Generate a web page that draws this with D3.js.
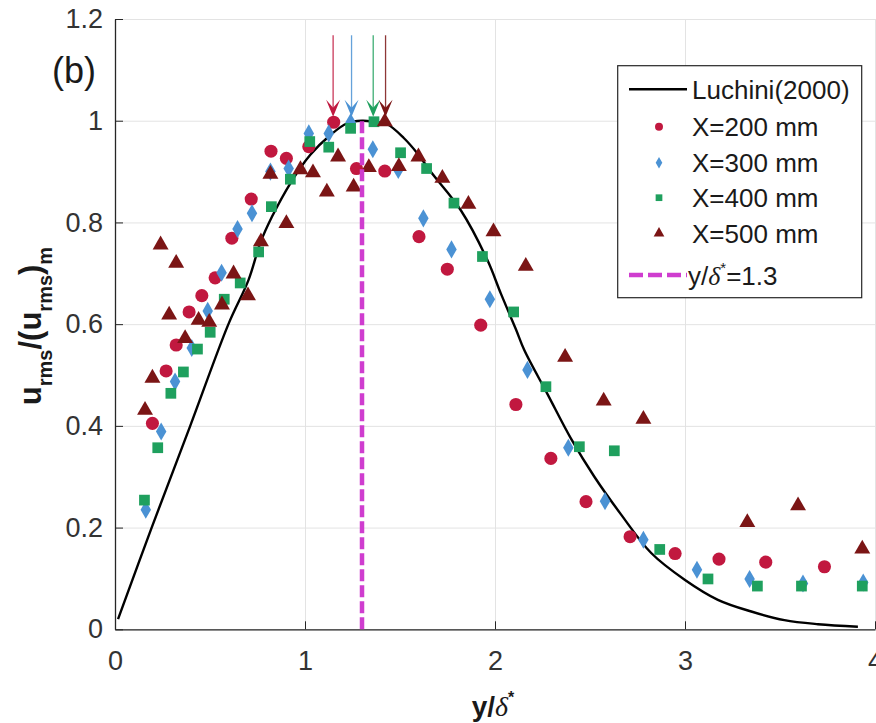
<!DOCTYPE html>
<html>
<head>
<meta charset="utf-8">
<script src="https://cdn.jsdelivr.net/npm/d3@7"></script>
<style>
  body { margin: 0; background: #fff; }
  svg { display: block; font-family: "Liberation Sans", Arial, sans-serif; }
</style>
</head>
<body>
<div class="content"></div>
<script>
// Luchini (2000) theory curve
var luchiniX = [0.016,0.193,0.396,0.597,0.703,0.765,0.826,0.923,1.028,1.134,1.222,1.3,1.363,1.433,1.52,1.591,1.661,1.82,1.96,2.031,2.11,2.154,2.277,2.4,2.523,2.663,2.822,3.0,3.173,3.349,3.523,3.7,3.91];
var luchiniY = [0.02,0.2,0.4,0.6,0.687,0.76,0.811,0.877,0.933,0.972,0.995,1.0,0.998,0.993,0.966,0.936,0.9,0.824,0.726,0.66,0.59,0.549,0.462,0.375,0.3,0.226,0.15,0.097,0.058,0.035,0.018,0.01,0.005];

// X=200 mm
var x200 = [0.197,0.269,0.322,0.39,0.457,0.527,0.615,0.717,0.821,0.902,1.02,1.151,1.271,1.42,1.6,1.749,1.925,2.11,2.294,2.479,2.711,2.948,3.179,3.425,3.734];
var y200 = [0.405,0.508,0.559,0.624,0.656,0.691,0.769,0.846,0.94,0.926,0.949,0.997,0.906,0.901,0.772,0.708,0.598,0.442,0.336,0.251,0.182,0.149,0.138,0.132,0.123];

// X=300 mm
var x300 = [0.162,0.243,0.316,0.404,0.488,0.561,0.645,0.721,0.818,0.914,1.02,1.125,1.24,1.357,1.491,1.623,1.771,1.973,2.171,2.386,2.579,2.781,3.063,3.34,3.621,3.938];
var y300 = [0.235,0.389,0.487,0.553,0.626,0.701,0.787,0.818,0.9,0.906,0.975,0.975,0.997,0.944,0.903,0.808,0.747,0.649,0.51,0.357,0.252,0.176,0.117,0.099,0.09,0.092];

// X=400 mm
var x400 = [0.155,0.225,0.294,0.36,0.434,0.501,0.575,0.659,0.756,0.823,0.923,1.025,1.125,1.24,1.363,1.503,1.64,1.784,1.934,2.098,2.268,2.444,2.628,2.867,3.121,3.381,3.613,3.933];
var y400 = [0.254,0.357,0.464,0.506,0.551,0.584,0.649,0.681,0.742,0.831,0.885,0.959,0.948,0.985,0.998,0.937,0.906,0.838,0.733,0.624,0.477,0.359,0.351,0.157,0.099,0.085,0.085,0.085];

// X=500 mm
var x500 = [0.158,0.197,0.24,0.285,0.322,0.369,0.44,0.496,0.563,0.624,0.7,0.768,0.818,0.902,0.976,1.042,1.115,1.174,1.256,1.336,1.42,1.494,1.597,1.723,1.86,1.992,2.162,2.369,2.572,2.781,3.328,3.595,3.933];
var y500 = [0.431,0.494,0.756,0.618,0.72,0.572,0.608,0.604,0.638,0.699,0.656,0.762,0.895,0.798,0.904,0.898,0.86,0.929,0.87,0.908,0.998,0.91,0.929,0.887,0.836,0.782,0.714,0.535,0.449,0.413,0.21,0.243,0.158];

var seriesNames = ["X=200 mm", "X=300 mm", "X=400 mm", "X=500 mm"];
var seriesColors = ["#c1183f", "#4b92d4", "#1fa05e", "#7b1515"];
var peakX = [1.148, 1.245, 1.359, 1.424];
var refLineX = 1.3;

var xTicks = [0, 1, 2, 3, 4];
var yTicks = [0, 0.2, 0.4, 0.6, 0.8, 1, 1.2];

var width = 876, height = 723;
var svg = d3.select('.content').append('svg').attr('width', width).attr('height', height);

var x = d3.scaleLinear().domain([0, 4]).range([115, 875]);
var y = d3.scaleLinear().domain([0, 1.2]).range([629.3, 19]);

// grid
svg.append('g').attr('transform', 'translate(0,629.3)')
  .call(d3.axisBottom(x).tickValues(xTicks).tickSize(-610.3).tickFormat(''))
  .call(function(g) { g.select('.domain').remove(); g.selectAll('line').attr('stroke', '#e3e3e3'); });
svg.append('g').attr('transform', 'translate(115,0)')
  .call(d3.axisLeft(y).tickValues(yTicks).tickSize(-760).tickFormat(''))
  .call(function(g) { g.select('.domain').remove(); g.selectAll('line').attr('stroke', '#e3e3e3'); });

// axes
var xAxis = svg.append('g').attr('transform', 'translate(0,629.3)')
  .call(d3.axisBottom(x).tickValues(xTicks).tickSizeInner(-8).tickSizeOuter(0).tickPadding(22).tickFormat(d3.format('')));
var yAxis = svg.append('g').attr('transform', 'translate(115,0)')
  .call(d3.axisLeft(y).tickValues(yTicks).tickSizeInner(-8).tickSizeOuter(0).tickPadding(12).tickFormat(d3.format('')));
[xAxis, yAxis].forEach(function(g) {
  g.select('.domain').attr('stroke', '#262626').attr('stroke-width', 1.3);
  g.selectAll('line').attr('stroke', '#262626');
  g.selectAll('text').attr('font-size', 27).attr('fill', '#333').attr('font-family', '"Liberation Sans", Arial, sans-serif');
});

// theory curve
var line = d3.line().x(function(d) { return x(d[0]); }).y(function(d) { return y(d[1]); }).curve(d3.curveCatmullRom);
svg.append('path').datum(d3.zip(luchiniX, luchiniY))
  .attr('d', line).attr('fill', 'none').attr('stroke', '#000').attr('stroke-width', 2.4);

// markers
var shapes = [d3.symbolCircle, d3.symbolDiamond, d3.symbolSquare, d3.symbolTriangle];
var sizes = [135, 95, 115, 110];
var legendSizes = [50, 38, 45, 50];
var xs = [x200, x300, x400, x500], ys = [y200, y300, y400, y500];
xs.forEach(function(xv, i) {
  svg.append('g').selectAll('path').data(d3.zip(xv, ys[i])).enter().append('path')
    .attr('transform', function(d) { return 'translate(' + x(d[0]) + ',' + y(d[1]) + ')'; })
    .attr('d', d3.symbol().type(shapes[i]).size(sizes[i]))
    .attr('fill', seriesColors[i]);
});

// vertical reference line
svg.append('line')
  .attr('x1', x(refLineX)).attr('x2', x(refLineX)).attr('y1', y(0)).attr('y2', y(1.0))
  .attr('stroke', '#cf3dcf').attr('stroke-width', 4.5).attr('stroke-dasharray', '12,4');

// peak arrows
peakX.forEach(function(px, i) {
  var ax = x(px), top = y(1.168), tip = y(1.008);
  svg.append('line').attr('x1', ax).attr('x2', ax).attr('y1', top).attr('y2', tip - 8)
    .attr('stroke', seriesColors[i]).attr('stroke-width', 1.3).attr('opacity', 0.85);
  svg.append('path')
    .attr('d', 'M' + ax + ',' + tip + 'L' + (ax - 7) + ',' + (tip - 17) + 'L' + ax + ',' + (tip - 9) + 'L' + (ax + 7) + ',' + (tip - 17) + 'Z')
    .attr('fill', seriesColors[i]);
});

// (b)
svg.append('text').attr('x', 52).attr('y', 83).attr('font-size', 36).attr('fill', '#1a1a1a').text('(b)');

// axis labels
var yl = svg.append('text').attr('transform', 'translate(41,326) rotate(-90)')
  .attr('text-anchor', 'middle').attr('font-weight', 'bold').attr('font-size', 31).attr('fill', '#1a1a1a');
yl.append('tspan').text('u');
yl.append('tspan').attr('dy', 11).attr('font-size', 20).text('rms');
yl.append('tspan').attr('dy', -11).text('/(u');
yl.append('tspan').attr('dy', 11).attr('font-size', 20).text('rms');
yl.append('tspan').attr('dy', -11).text(')');
yl.append('tspan').attr('dy', 11).attr('font-size', 20).text('m');

var xl = svg.append('text').attr('x', 493).attr('y', 716).attr('text-anchor', 'middle')
  .attr('font-weight', 'bold').attr('font-size', 28).attr('fill', '#1a1a1a');
xl.append('tspan').text('y/');
xl.append('tspan').attr('font-family', '"Liberation Serif", "DejaVu Serif", serif').attr('font-style', 'italic').attr('font-weight', 'normal').text('δ');
xl.append('tspan').attr('dy', -13).attr('font-size', 16).text('*');

// legend
var lg = svg.append('g');
lg.append('rect').attr('x', 617.7).attr('y', 65.7).attr('width', 244).attr('height', 232)
  .attr('fill', '#fff').attr('stroke', '#262626').attr('stroke-width', 1.2);
var rowY = [89.3, 126.7, 162.7, 197.7, 233.3, 275];
lg.append('line').attr('x1', 629).attr('x2', 687).attr('y1', rowY[0]).attr('y2', rowY[0])
  .attr('stroke', '#000').attr('stroke-width', 2.4);
lg.append('text').attr('x', 692).attr('y', rowY[0] + 9.5).attr('font-size', 26).attr('fill', '#1a1a1a').text('Luchini(2000)');
seriesNames.forEach(function(name, i) {
  lg.append('path').attr('transform', 'translate(659,' + rowY[i + 1] + ')')
    .attr('d', d3.symbol().type(shapes[i]).size(legendSizes[i])).attr('fill', seriesColors[i]);
  lg.append('text').attr('x', 692).attr('y', rowY[i + 1] + 9.5).attr('font-size', 26).attr('fill', '#1a1a1a').text(name);
});
lg.append('line').attr('x1', 629).attr('x2', 687).attr('y1', rowY[5]).attr('y2', rowY[5])
  .attr('stroke', '#cf3dcf').attr('stroke-width', 4.5).attr('stroke-dasharray', '14,5');
var lt = lg.append('text').attr('x', 688).attr('y', rowY[5] + 9.5).attr('font-size', 26).attr('fill', '#1a1a1a');
lt.append('tspan').text('y/');
lt.append('tspan').attr('font-family', '"Liberation Serif", "DejaVu Serif", serif').attr('font-style', 'italic').text('δ');
lt.append('tspan').attr('dy', -12).attr('font-size', 15).text('*');
lt.append('tspan').attr('dy', 12).text('=1.3');
</script>
</body>
</html>
